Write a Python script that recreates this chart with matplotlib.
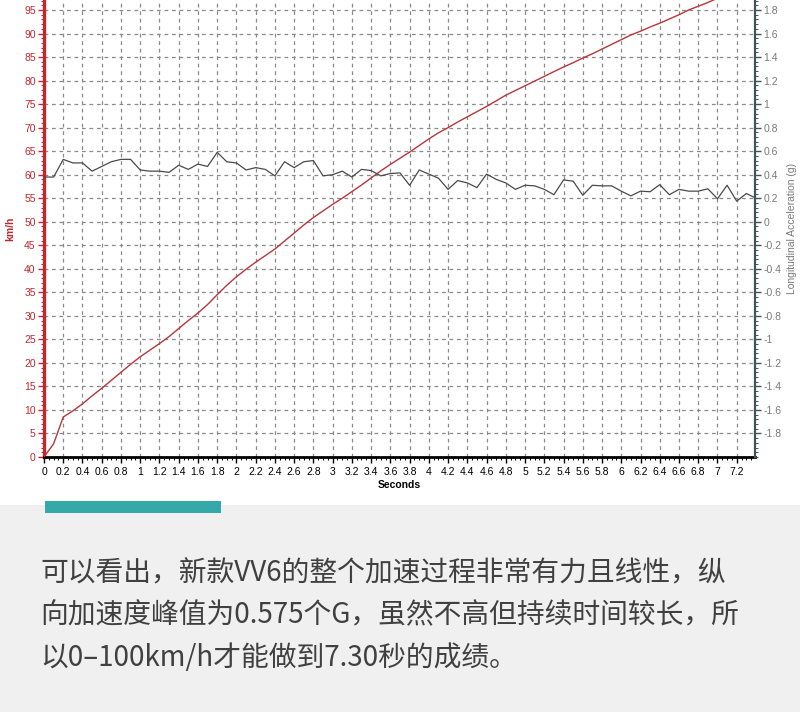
import matplotlib
matplotlib.use("Agg")
import matplotlib.pyplot as plt
from matplotlib.patches import Rectangle
from matplotlib.ticker import MultipleLocator, FixedLocator
import numpy as np

time_s = [0.0, 0.1, 0.2, 0.3, 0.4, 0.5, 0.6, 0.7, 0.8, 0.9,
          1.0, 1.1, 1.2, 1.3, 1.4, 1.5, 1.6, 1.7, 1.8, 1.9,
          2.0, 2.1, 2.2, 2.3, 2.4, 2.5, 2.6, 2.7, 2.8, 2.9,
          3.0, 3.1, 3.2, 3.3, 3.4, 3.5, 3.6, 3.7, 3.8, 3.9,
          4.0, 4.1, 4.2, 4.3, 4.4, 4.5, 4.6, 4.7, 4.8, 4.9,
          5.0, 5.1, 5.2, 5.3, 5.4, 5.5, 5.6, 5.7, 5.8, 5.9,
          6.0, 6.1, 6.2, 6.3, 6.4, 6.5, 6.6, 6.7, 6.8, 6.9,
          7.0, 7.1, 7.2, 7.3, 7.4]

speed_kmh = [0, 2.8, 8.5, 9.8, 11.3, 13.0, 14.6, 16.3, 18.0, 19.7,
             21.3, 22.7, 24.1, 25.6, 27.3, 29.0, 30.6, 32.4, 34.5, 36.5,
             38.3, 39.9, 41.4, 42.8, 44.2, 45.9, 47.6, 49.3, 50.9, 52.3,
             53.7, 55.0, 56.4, 57.8, 59.3, 60.8, 62.2, 63.5, 64.8, 66.2,
             67.6, 68.9, 70.0, 71.2, 72.3, 73.4, 74.5, 75.7, 76.9, 77.9,
             78.9, 79.9, 80.9, 81.9, 82.9, 83.8, 84.8, 85.7, 86.7, 87.7,
             88.7, 89.7, 90.5, 91.4, 92.2, 93.1, 94.0, 95.0, 95.8, 96.6,
             97.5, 98.3, 99.2, 100.0, 100.8]

accel_g = [0.38, 0.38, 0.53, 0.50, 0.50, 0.43, 0.47, 0.51, 0.53, 0.53,
           0.44, 0.43, 0.43, 0.42, 0.48, 0.445, 0.49, 0.47, 0.59, 0.51,
           0.50, 0.44, 0.46, 0.445, 0.39, 0.51, 0.46, 0.51, 0.52, 0.39,
           0.40, 0.43, 0.38, 0.445, 0.435, 0.39, 0.41, 0.415, 0.31, 0.44,
           0.405, 0.37, 0.275, 0.35, 0.33, 0.29, 0.405, 0.36, 0.33, 0.275,
           0.31, 0.305, 0.275, 0.23, 0.355, 0.345, 0.225, 0.31, 0.305, 0.305,
           0.26, 0.22, 0.26, 0.255, 0.315, 0.23, 0.275, 0.26, 0.26, 0.28,
           0.195, 0.31, 0.175, 0.24, 0.20]

x_ticks = [0, 0.2, 0.4, 0.6, 0.8, 1, 1.2, 1.4, 1.6, 1.8, 2, 2.2, 2.4, 2.6, 2.8,
           3, 3.2, 3.4, 3.6, 3.8, 4, 4.2, 4.4, 4.6, 4.8, 5, 5.2, 5.4, 5.6, 5.8,
           6, 6.2, 6.4, 6.6, 6.8, 7, 7.2]
left_ticks = list(range(0, 100, 5))
right_ticks = [-1.8, -1.6, -1.4, -1.2, -1, -0.8, -0.6, -0.4, -0.2, 0,
               0.2, 0.4, 0.6, 0.8, 1, 1.2, 1.4, 1.6, 1.8]

caption = ["可以看出，新款VV6的整个加速过程非常有力且线性，纵",
           "向加速度峰值为0.575个G，虽然不高但持续时间较长，所",
           "以0–100km/h才能做到7.30秒的成绩。"]

RED = "#c0282d"
GRAY_TXT = "#7a7a7a"
W, H = 800, 712

fig = plt.figure(figsize=(W / 100, H / 100), dpi=100)
fig.patch.set_facecolor("white")

# lower grey panel and teal bar
fig.add_artist(Rectangle((0, 0), 1, (H - 505) / H, transform=fig.transFigure,
                         facecolor="#f0f0f0", edgecolor="none", zorder=0))
fig.add_artist(Rectangle((45 / W, 1 - 513 / H), 176 / W, 12 / H, transform=fig.transFigure,
                         facecolor="#35a9aa", edgecolor="none", zorder=1))

ax = fig.add_axes([44 / W, 1 - 457 / H, 711 / W, 457 / H])
ax.set_facecolor("white")
ax.set_xlim(0, 7.39)
ax.set_ylim(0, 97.13)

# grid
ax.xaxis.set_major_locator(FixedLocator(x_ticks))
ax.yaxis.set_major_locator(FixedLocator(left_ticks))
ax.grid(True, which="major", color="#8a8a8a", linestyle=(0, (3, 3)), linewidth=0.9)
ax.set_axisbelow(True)

ax.plot(time_s, speed_kmh, color="#b8353a", linewidth=1.0, zorder=3)

ax.set_xticklabels([f"{v:g}" for v in x_ticks], fontsize=7.5, family="Liberation Sans")
ax.set_yticklabels([str(v) for v in left_ticks], fontsize=7.5, family="Liberation Sans", color=RED)
ax.xaxis.set_minor_locator(MultipleLocator(0.05))
ax.yaxis.set_minor_locator(MultipleLocator(1))
ax.tick_params(axis="x", which="major", length=4, width=1, color="black", pad=3)
ax.tick_params(axis="x", which="minor", length=2, width=0.7, color="black")
ax.tick_params(axis="y", which="major", length=4, width=1, color=RED, pad=2)
ax.tick_params(axis="y", which="minor", length=2, width=0.7, color=RED)

for s in ["top", "right"]:
    ax.spines[s].set_visible(False)
ax.spines["left"].set_color(RED)
ax.spines["left"].set_linewidth(2.4)
ax.spines["bottom"].set_color("black")
ax.spines["bottom"].set_linewidth(2.0)

ax.set_xlabel("Seconds", fontsize=7.5, family="Liberation Sans", fontweight="bold", labelpad=2)
ax.set_ylabel("km/h", fontsize=7.5, family="Liberation Sans", fontweight="bold", color=RED, labelpad=6)

ax2 = ax.twinx()
ax2.set_ylim(-2.0, 1.885)
ax2.plot(time_s, accel_g, color="#4a4a4a", linewidth=0.9, zorder=3)
ax2.yaxis.set_major_locator(FixedLocator(right_ticks))
ax2.set_yticklabels([f"{v:g}" for v in right_ticks], fontsize=7.5, family="Liberation Sans", color=GRAY_TXT)
ax2.yaxis.set_minor_locator(MultipleLocator(0.04))
ax2.tick_params(axis="y", which="major", length=4, width=1, color="#3d5656", pad=2)
ax2.tick_params(axis="y", which="minor", length=2, width=0.7, color="#3d5656")
for s in ["top", "left", "bottom"]:
    ax2.spines[s].set_visible(False)
ax2.spines["right"].set_color("#3d5656")
ax2.spines["right"].set_linewidth(1.6)
ax2.set_ylabel("Longitudinal Acceleration (g)", fontsize=7.5, family="Liberation Sans",
               color=GRAY_TXT, labelpad=4)

# caption text
ys = [573, 615, 658]
for line, y in zip(caption, ys):
    fig.text(40 / W, 1 - y / H, line, fontsize=20, color="#404040", fontweight="light",
             family=["Noto Sans CJK SC", "DejaVu Sans"], va="center", ha="left")

fig.savefig("out.png", dpi=100)
